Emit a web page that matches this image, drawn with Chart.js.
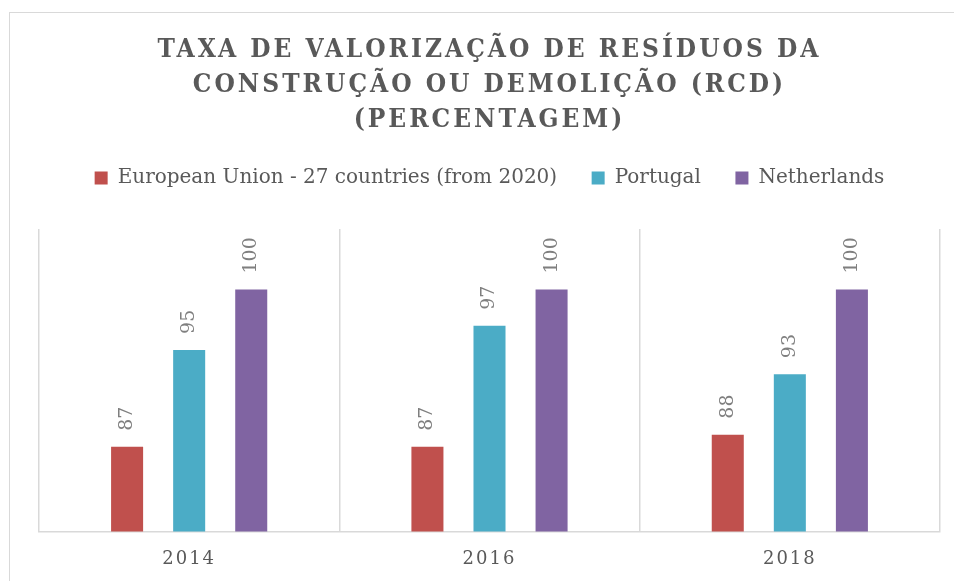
<!DOCTYPE html>
<html>
<head>
<meta charset="utf-8">
<script src="https://cdn.jsdelivr.net/npm/chart.js@4.4.1/dist/chart.umd.min.js"></script>
<style>
  html, body { margin: 0; padding: 0; background: #fff; overflow: hidden; }
  #wrap { position: relative; width: 954px; height: 581px; overflow: hidden; }
  #frame { position: absolute; left: 9px; top: 12px; width: 1000px; height: 1000px; border: 1.5px solid #d9d9d9; }
  #chart { position: absolute; left: 0; top: 0; }
</style>
</head>
<body>
<div id="wrap">
  <div id="frame"></div>
  <canvas id="chart" width="954" height="581"></canvas>
</div>
<script>
const years = ['2014', '2016', '2018'];
const seriesNames = ['European Union - 27 countries (from 2020)', 'Portugal', 'Netherlands'];
const euValues = [87, 87, 88];
const portugalValues = [95, 97, 93];
const netherlandsValues = [100, 100, 100];
const titleLines = ['TAXA DE VALORIZAÇÃO DE RESÍDUOS DA', 'CONSTRUÇÃO OU DEMOLIÇÃO (RCD)', '(PERCENTAGEM)'];

const FONT = "'DejaVu Serif', serif";
const TITLE_FONT = "'DejaVu Serif Condensed', 'DejaVu Serif', serif";
const TEXT = '#595959';

// letter spacing for title + x labels, extra space under legend, rotated value labels
const excelLook = {
  id: 'excelLook',
  beforeLayout(chart) {
    const legend = chart.legend;
    if (legend && !legend._padded) {
      const fit = legend.fit;
      legend.fit = function () {
        fit.apply(this, arguments);
        this.height += 31;
      };
      legend._padded = true;
    }
  },
  beforeDraw(chart) {
    const wrap = (obj, name, spacing) => {
      if (!obj || obj['_ls_' + name]) return;
      const orig = obj[name];
      obj[name] = function () {
        const c = chart.ctx;
        c.save();
        c.letterSpacing = spacing;
        orig.apply(this, arguments);
        c.restore();
      };
      obj['_ls_' + name] = true;
    };
    wrap(chart.titleBlock, 'draw', '3px');
    wrap(chart.scales.x, 'drawLabels', '2px');
  },
  afterDatasetsDraw(chart) {
    const ctx = chart.ctx;
    ctx.save();
    ctx.fillStyle = '#7f7f7f';
    ctx.font = "19px " + FONT;
    ctx.textAlign = 'left';
    ctx.textBaseline = 'middle';
    chart.data.datasets.forEach((ds, i) => {
      chart.getDatasetMeta(i).data.forEach((bar, j) => {
        ctx.save();
        ctx.translate(bar.x, bar.y - 16);
        ctx.rotate(-Math.PI / 2);
        ctx.fillText(String(ds.data[j]), 0, 0);
        ctx.restore();
      });
    });
    ctx.restore();
  }
};

new Chart(document.getElementById('chart'), {
  type: 'bar',
  data: {
    labels: years,
    datasets: [
      { label: seriesNames[0], data: euValues, backgroundColor: '#C0504D' },
      { label: seriesNames[1], data: portugalValues, backgroundColor: '#4BACC6' },
      { label: seriesNames[2], data: netherlandsValues, backgroundColor: '#8064A2' }
    ]
  },
  options: {
    responsive: false,
    animation: false,
    devicePixelRatio: 1,
    categoryPercentage: 0.62,
    barPercentage: 0.516,
    borderWidth: 0,
    layout: { padding: { left: 39, right: 14, top: 10, bottom: -6 } },
    scales: {
      x: {
        grid: { offset: true, color: '#d9d9d9', lineWidth: 1.5, drawTicks: false },
        border: { color: '#d9d9d9', width: 1.5 },
        ticks: { color: TEXT, padding: 17, font: { family: FONT, size: 18 } }
      },
      y: { display: false, min: 80, max: 105 }
    },
    plugins: {
      title: {
        display: true,
        text: titleLines,
        color: TEXT,
        font: { family: TITLE_FONT, size: 26, weight: 'bold', lineHeight: 35 / 26 },
        padding: { top: 23, bottom: -4.5 }
      },
      legend: {
        labels: {
          color: TEXT,
          boxWidth: 13,
          boxHeight: 13,
          padding: 34.5,
          font: { family: FONT, size: 20 }
        }
      },
      tooltip: { enabled: false }
    }
  },
  plugins: [excelLook]
});
</script>
</body>
</html>
